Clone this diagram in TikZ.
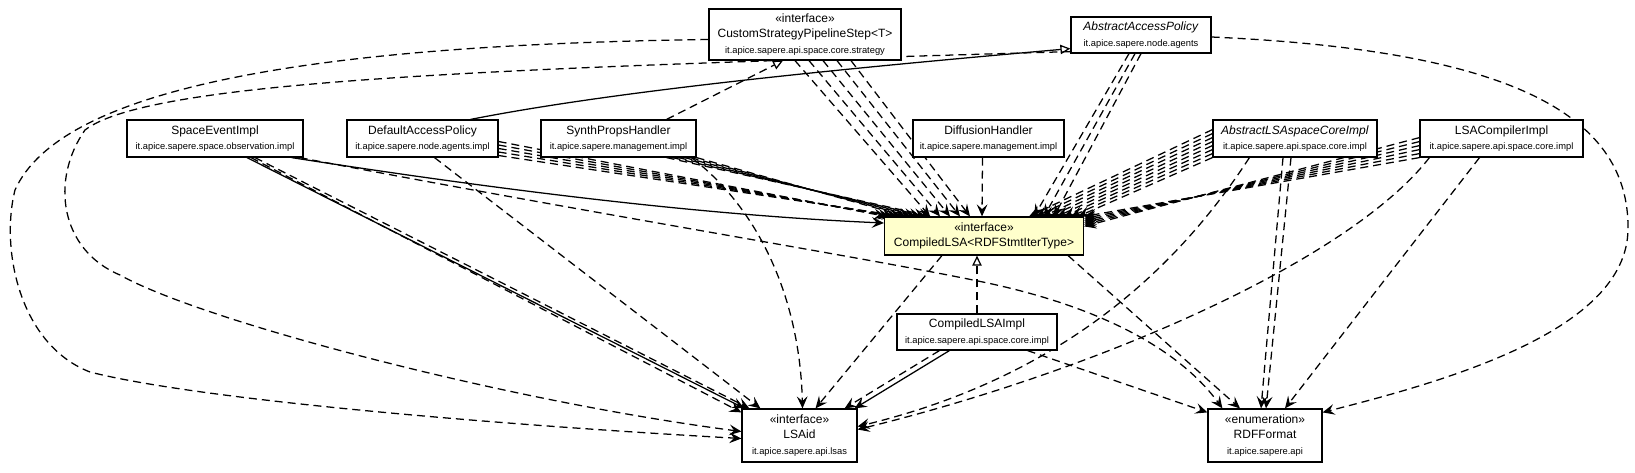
\documentclass[tikz,border=0pt]{standalone}
\usepackage{fontspec}
\setmainfont{Liberation Sans}
\usetikzlibrary{arrows.meta,calc}
\definecolor{notefill}{HTML}{FFFFCC}
\newcommand{\stereo}[1]{«#1»}
\newcommand{\pkg}[1]{{\fontsize{7}{8}\selectfont #1}}
\pgfdeclarelayer{edges}
\pgfsetlayers{edges,main}

\begin{document}
\begin{tikzpicture}[
    x=0.75pt, y=-0.75pt,
    umlclass/.style={draw, line width=0.9pt, fill=white, align=center, inner sep=1pt,
        font=\fontsize{9}{11.5}\selectfont},
    umliface/.style={umlclass, fill=notefill},
    boxsize/.style 2 args={minimum width=#1*0.75pt, minimum height=#2*0.75pt},
    dep/.style={draw, line width=0.95pt, dash pattern=on 6pt off 3.75pt,
        -{Stealth[length=9pt,width=8pt,inset=3.5pt]}},
    nav/.style={draw, line width=0.95pt, -{Stealth[length=9pt,width=8pt,inset=3.5pt]}},
    realize/.style={draw, line width=0.95pt, dash pattern=on 6pt off 3.75pt,
        -{Triangle[open,length=7.5pt,width=7pt]}},
    extend/.style={draw, line width=0.95pt, -{Triangle[open,length=7.5pt,width=7pt]}}
    ]

\useasboundingbox (0,0) rectangle (1635,472);

% top row
\node[umlclass, boxsize={192}{51}] (csps) at (805,34.5)
    {\stereo{interface}\\CustomStrategyPipelineStep<T>\\\pkg{it.apice.sapere.api.space.core.strategy}};
\node[umlclass, boxsize={140}{36}] (aap) at (1141,35)
    {\textit{AbstractAccessPolicy}\\\pkg{it.apice.sapere.node.agents}};

% middle row
\node[umlclass, boxsize={176}{37}] (sei) at (215,138.5)
    {SpaceEventImpl\\\pkg{it.apice.sapere.space.observation.impl}};
\node[umlclass, boxsize={151}{37}] (dap) at (422.5,138.5)
    {DefaultAccessPolicy\\\pkg{it.apice.sapere.node.agents.impl}};
\node[umlclass, boxsize={155}{37}] (sph) at (618.5,138.5)
    {SynthPropsHandler\\\pkg{it.apice.sapere.management.impl}};
\node[umlclass, boxsize={151}{37}] (dh) at (988.5,138.5)
    {DiffusionHandler\\\pkg{it.apice.sapere.management.impl}};
\node[umlclass, boxsize={164}{37}] (alsa) at (1295,138.5)
    {\textit{AbstractLSAspaceCoreImpl}\\\pkg{it.apice.sapere.api.space.core.impl}};
\node[umlclass, boxsize={163}{37}] (lsac) at (1501.5,138.5)
    {LSACompilerImpl\\\pkg{it.apice.sapere.api.space.core.impl}};

% centre
\node[umliface, boxsize={199}{38}] (clsa) at (984,236)
    {\stereo{interface}\\CompiledLSA<RDFStmtIterType>};
\node[umlclass, boxsize={160}{36}] (clsai) at (977,332)
    {CompiledLSAImpl\\\pkg{it.apice.sapere.api.space.core.impl}};

% bottom row
\node[umlclass, boxsize={115}{53}] (lsaid) at (799.5,435.5)
    {\stereo{interface}\\LSAid\\\pkg{it.apice.sapere.api.lsas}};
\node[umlclass, boxsize={114}{53}] (rdf) at (1265,435.5)
    {\stereo{enumeration}\\RDFFormat\\\pkg{it.apice.sapere.api}};

\begin{pgfonlayer}{edges}
% CustomStrategyPipelineStep
\draw[dep] ($(csps.west)+(0,5)$) .. controls (300,45) and (60,90) .. (15,190)
    .. controls (0,250) and (20,345) .. (90,372)
    .. controls (200,400) and (500,425) .. ($(lsaid.west)+(0,3)$);
\foreach \k in {0,...,4}
    \draw[dep] ($(csps.south)+(-10+14*\k,0)$) -- ($(clsa.north)+(-54+10*\k,0)$);

% AbstractAccessPolicy
\draw[dep] ($(aap.south west)+(0,-2)$) .. controls (500,68) and (150,80) .. (85,130)
    .. controls (50,180) and (60,250) .. (120,275)
    .. controls (200,320) and (500,400) .. ($(lsaid.west)+(0,-4)$);
\draw[dep] ($(aap.east)+(0,2)$) .. controls (1500,50) and (1630,110) .. (1628,230)
    .. controls (1626,330) and (1450,380) .. ($(rdf.north east)+(0,4)$);
\foreach \k in {0,1,2}
    \draw[dep] ($(aap.south)+(-12+6*\k,0)$) -- ($(clsa.north)+(50+10*\k,0)$);

% SpaceEventImpl
\draw[nav] ($(sei.south east)+(-12,0)$) .. controls (500,190) and (700,215) .. ($(clsa.west)+(0,-13)$);
\draw[dep] ($(sei.south east)+(-4,0)$) .. controls (600,215) and (850,255) .. (973,280)
    .. controls (1100,305) and (1180,350) .. ($(rdf.north west)+(15,0)$);
\draw[nav] ($(sei.south)+(32,0)$) -- ($(lsaid.north west)+(3,0)$);
\draw[dep] ($(sei.south)+(36,0)$) -- ($(lsaid.north west)+(0,4)$);
\draw[dep] ($(sei.south)+(40,0)$) -- ($(lsaid.north west)+(8,0)$);

% DefaultAccessPolicy
\draw[extend] ($(dap.north east)+(-28,0)$) .. controls (620,90) and (850,68) .. ($(aap.south west)+(0,-5)$);
\foreach \k in {0,...,4}
    \draw[dep] ($(dap.east)+(0,3+3.5*\k)$) -- ($(clsa.north west)+(2+4*\k,0)$);
\draw[dep] ($(dap.south)+(12,0)$) -- ($(lsaid.north west)+(19,0)$);

% SynthPropsHandler
\draw[realize] ($(sph.north east)+(-30,0)$) -- ($(csps.south)+(-22,0)$);
\foreach \k in {0,...,5}
    \draw[dep] ($(sph.south east)+(-6*\k,0)$) -- ($(clsa.north west)+(22+5*\k,0)$);
\draw[dep] ($(sph.south east)+(-5,0)$) .. controls (760,210) and (800,300) .. ($(lsaid.north)+(3,0)$);

% DiffusionHandler
\draw[dep] ($(dh.south)+(-6,0)$) -- ($(clsa.north)+(-2,0)$);

% AbstractLSAspaceCoreImpl
\foreach \k in {0,...,7}
    \draw[dep] ($(alsa.south west)+(0,-4*\k)$) -- ($(clsa.north east)+(-6-7*\k,0)$);
\draw[dep] ($(alsa.south west)+(37,0)$) .. controls (1170,280) and (1050,380) .. ($(lsaid.east)+(0,-9)$);
\foreach \k in {0,1}
    \draw[dep] ($(alsa.south)+(-12+8*\k,0)$) -- ($(rdf.north)+(-4+5*\k,0)$);

% LSACompilerImpl
\foreach \k in {0,...,5}
    \draw[dep] ($(lsac.south west)+(0,-4*\k)$) -- ($(clsa.north east)+(0,2*\k)$);
\draw[dep] ($(lsac.south west)+(10,0)$) .. controls (1350,260) and (1100,370) .. ($(lsaid.east)+(0,-6)$);
\draw[dep] ($(lsac.south)+(-22,0)$) -- ($(rdf.north)+(20,0)$);

% CompiledLSA and CompiledLSAImpl
\draw[dep] ($(clsa.south west)+(58,0)$) -- ($(lsaid.north)+(16,0)$);
\draw[dep] ($(clsa.south east)+(-16,0)$) -- ($(rdf.north)+(-25,0)$);
\draw[realize] (clsai.north) -- (clsai.north |- clsa.south);
\draw[nav] ($(clsai.south west)+(53,0)$) -- ($(lsaid.north east)+(-3,0)$);
\draw[dep] ($(clsai.south west)+(43,0)$) -- ($(lsaid.north east)+(-13,0)$);
\draw[dep] ($(clsai.south east)+(-30,0)$) -- ($(rdf.north west)+(0,4)$);
\end{pgfonlayer}
\end{tikzpicture}
\end{document}
